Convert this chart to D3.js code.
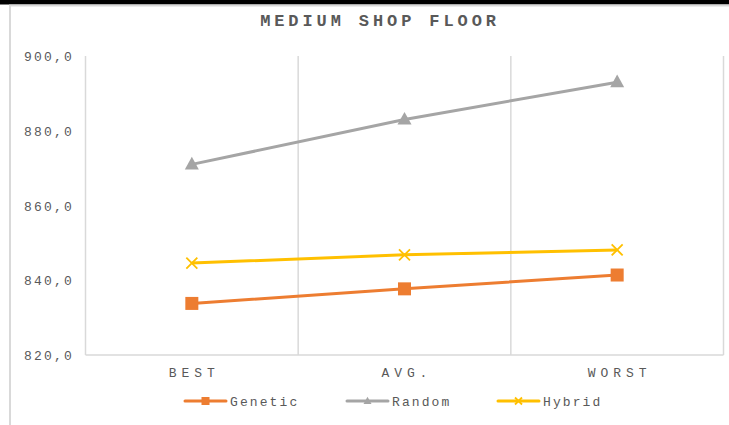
<!DOCTYPE html>
<html>
<head>
<meta charset="utf-8">
<script src="https://cdn.jsdelivr.net/npm/d3@7"></script>
<style>
  html, body { margin: 0; padding: 0; background: #fff; }
  svg { display: block; }
  text { font-family: "Courier New", "Liberation Mono", monospace; fill: #595959; }
</style>
</head>
<body>
<svg id="chart" width="729" height="425"></svg>
<script>
const categories = ["BEST", "AVG.", "WORST"];
const genetic = [833.8, 837.7, 841.4];
const random = [871.0, 883.0, 893.0];
const hybrid = [844.6, 846.8, 848.1];
const yTicks = [820, 840, 860, 880, 900];
const seriesNames = ["Genetic", "Random", "Hybrid"];
const seriesColors = ["#ED7D31", "#A5A5A5", "#FFC000"];
const seriesMarkers = ["square", "triangle", "x"];

const series = [genetic, random, hybrid].map((v, i) => ({
  name: seriesNames[i], values: v, color: seriesColors[i], marker: seriesMarkers[i]
}));

const svg = d3.select("#chart");
const W = 729, H = 425;

// frame
svg.append("rect").attr("x", 0).attr("y", 0).attr("width", W).attr("height", 4.5).attr("fill", "#000");
svg.append("line").attr("x1", 9).attr("x2", W).attr("y1", 5.5).attr("y2", 5.5)
  .attr("stroke", "#d9d9d9").attr("stroke-width", 2);
svg.append("line").attr("x1", 10).attr("x2", 10).attr("y1", 5).attr("y2", H)
  .attr("stroke", "#d9d9d9").attr("stroke-width", 2);

const pLeft = 85.5, pRight = 723.5, pTop = 56, pBottom = 355;
const x = d3.scaleBand().domain(categories).range([pLeft, pRight]).padding(0);
const y = d3.scaleLinear().domain([820, 900]).range([pBottom, pTop]);

// title
svg.append("text").attr("x", 380).attr("y", 25.5).attr("text-anchor", "middle")
  .attr("font-size", 17).attr("font-weight", "bold").attr("letter-spacing", 3.9)
  .text("MEDIUM SHOP FLOOR");

// vertical gridlines at band boundaries
const bounds = categories.map(c => x(c)).concat([x(categories[categories.length - 1]) + x.bandwidth()]);
svg.append("g").selectAll("line").data(bounds).join("line")
  .attr("x1", d => d).attr("x2", d => d).attr("y1", pTop).attr("y2", pBottom)
  .attr("stroke", "#d9d9d9").attr("stroke-width", 1.5);

// bottom axis line
svg.append("line").attr("x1", pLeft).attr("x2", pRight).attr("y1", pBottom).attr("y2", pBottom)
  .attr("stroke", "#d9d9d9").attr("stroke-width", 1.5);

// y axis labels
const yAxis = d3.axisLeft(y).tickValues(yTicks).tickSize(0).tickPadding(0)
  .tickFormat(d => d3.format(".1f")(d).replace(".", ","));
const gy = svg.append("g").attr("transform", `translate(${74},0)`).call(yAxis);
gy.select(".domain").remove();
gy.attr("font-family", null);
gy.selectAll("text").attr("font-size", 13).attr("letter-spacing", 2.2)
  .attr("fill", "#595959").attr("dy", "0.35em");

// x axis labels
const xAxis = d3.axisBottom(x).tickSize(0).tickPadding(0);
const gx = svg.append("g").attr("transform", `translate(0,${pBottom})`).call(xAxis);
gx.select(".domain").remove();
gx.attr("font-family", null);
gx.selectAll("text").attr("font-size", 13).attr("letter-spacing", 4.9)
  .attr("fill", "#595959").attr("dy", null).attr("y", 22)
  .attr("dx", 2.4);

const cx = c => x(c) + x.bandwidth() / 2;
const line = d3.line().x((d, i) => cx(categories[i])).y(d => y(d));

function drawMarker(g, type, color, px, py, size) {
  if (type === "square") {
    g.append("rect").attr("x", px - size / 2).attr("y", py - size / 2)
      .attr("width", size).attr("height", size).attr("fill", color);
  } else if (type === "triangle") {
    const h = size * 0.9;
    g.append("path")
      .attr("d", `M${px},${py - h * 0.6}L${px + size / 2},${py + h * 0.4}L${px - size / 2},${py + h * 0.4}Z`)
      .attr("fill", color);
  } else {
    const s = size / 2;
    g.append("path").attr("d", `M${px - s},${py - s}L${px + s},${py + s}M${px - s},${py + s}L${px + s},${py - s}`)
      .attr("stroke", color).attr("stroke-width", 1.8).attr("fill", "none");
  }
}

const gs = svg.append("g");
series.forEach(s => {
  gs.append("path").datum(s.values).attr("d", line).attr("fill", "none")
    .attr("stroke", s.color).attr("stroke-width", 3).attr("stroke-linejoin", "round");
  s.values.forEach((v, i) => {
    const size = s.marker === "square" ? 13 : s.marker === "triangle" ? 14 : 11;
    drawMarker(gs, s.marker, s.color, cx(categories[i]), y(v), size);
  });
});

// legend
const legendX = [185, 347, 498];
const legendY = 401;
const lg = svg.append("g");
series.forEach((s, i) => {
  const lx = legendX[i];
  lg.append("line").attr("x1", lx).attr("x2", lx + 41).attr("y1", legendY).attr("y2", legendY)
    .attr("stroke", s.color).attr("stroke-width", 3).attr("stroke-linecap", "round");
  const size = s.marker === "x" ? 7 : 8;
  drawMarker(lg, s.marker, s.color, lx + 20.5, legendY, size);
  lg.append("text").attr("x", lx + 45).attr("y", legendY).attr("dy", "0.35em")
    .attr("font-size", 13).attr("letter-spacing", 2.1).text(s.name);
});
</script>
</body>
</html>
